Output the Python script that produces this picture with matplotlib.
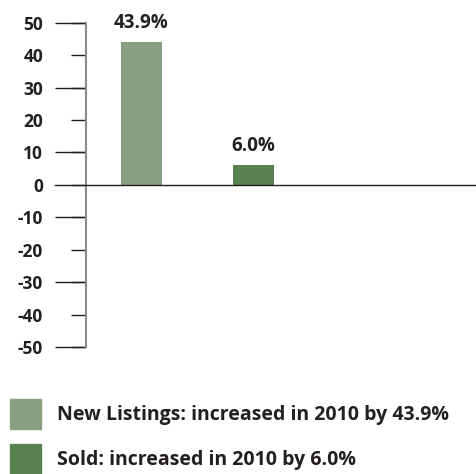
import matplotlib
matplotlib.use("Agg")
import matplotlib.pyplot as plt
from matplotlib.patches import Rectangle

categories = ["New Listings", "Sold"]
values = [43.9, 6.0]
bar_labels = ["43.9%", "6.0%"]
legend_labels = ["New Listings: increased in 2010 by 43.9%",
                 "Sold: increased in 2010 by 6.0%"]
colors = ["#889f80", "#5a8150"]
yticks = [50, 40, 30, 20, 10, 0, -10, -20, -30, -40, -50]
long_ticks = [50, 30, 10, -10, -30, -50]

FONT = "Open Sans"
fig = plt.figure(figsize=(4.76, 4.74), dpi=100)
ax = fig.add_axes([86/476, 127/474, 390/476, (451.3-127)/474])

x = [0, 1]
ax.bar(x, values, width=0.366, color=colors, zorder=2)
for xi, v, lab in zip(x, values, bar_labels):
    ax.annotate(lab, (xi, v), xytext=(0, 7), textcoords="offset points",
                ha="center", va="bottom", fontsize=13.5, fontweight="bold",
                family=FONT, color="#231f20")

ax.set_xlim(-0.496, 2.99)
ax.set_ylim(-50, 50)
for s in ["top", "right", "bottom"]:
    ax.spines[s].set_visible(False)
ax.spines["left"].set_color("#8a8a8a")
ax.spines["left"].set_linewidth(1.5)
ax.set_xticks([])

ax.yaxis.remove_overlapping_locs = False
ax.set_yticks(yticks)
ax.set_yticklabels([str(t) for t in yticks], fontsize=12.5, fontweight="bold",
                   family=FONT, color="#231f20")
ax.set_yticks(long_ticks, minor=True)
ax.tick_params(axis="y", which="major", length=10.8, width=1.0, color="#231f20", pad=20)
ax.tick_params(axis="y", which="minor", length=22.3, width=1.0, color="#231f20")

ax.axhline(0, xmin=-31/390, xmax=1, color="#231f20", linewidth=1.0, clip_on=False, zorder=3)

# legend
for i, (lab, c) in enumerate(zip(legend_labels, colors)):
    top = 399 + i * 45
    fig.patches.append(Rectangle((10/476, 1 - (top + 30)/474), 31/476, 30/474,
                                 transform=fig.transFigure, color=c, figure=fig))
    fig.text(57/476, 1 - (top + 16)/474, lab, fontsize=14, fontweight="bold",
             family=FONT, color="#231f20", va="center", ha="left")

fig.savefig("out.png", dpi=100)
